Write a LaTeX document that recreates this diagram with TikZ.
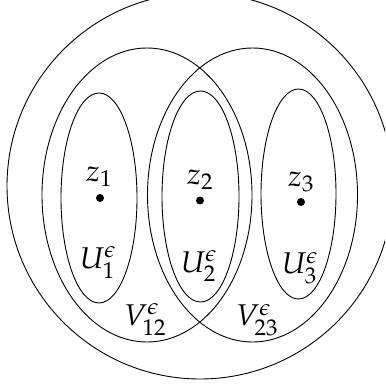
\documentclass[tikz,border=0pt]{standalone}
\usepackage{mathpazo}
\tikzset{
  curve/.style={draw=black, line width=0.9pt},
  lbl/.style={inner sep=0pt, font=\fontsize{30}{36}\selectfont},
  pt/.style={fill=black},
}
\begin{document}
\begin{tikzpicture}[x=1pt,y=-1pt]
\useasboundingbox (0,0) rectangle (385,390);
\clip (0,0) rectangle (385,390);
% outer circle
\draw[curve] (200,186) circle [radius=193];
% V ellipses
\draw[curve] (147,195) ellipse [x radius=105, y radius=147];
\draw[curve] (252.5,195) ellipse [x radius=105, y radius=147];
% U ellipses
\draw[curve] (99,198) ellipse [x radius=38, y radius=105];
\draw[curve] (200.5,196.5) ellipse [x radius=38.5, y radius=105.5];
\draw[curve] (298.5,194) ellipse [x radius=37.5, y radius=105];
% points
\fill[pt] (100,198) circle [radius=4];
\fill[pt] (200,200.5) circle [radius=4];
\fill[pt] (301,202) circle [radius=4];
% labels
\node[lbl] (z1) at (99,177) {$z_1$};
\node[lbl] (z2) at (200,180) {$z_2$};
\node[lbl] (z3) at (301,182) {$z_3$};
\node[lbl] (u1) at (98,263) {$U_1^\epsilon$};
\node[lbl] (u2) at (199,266) {$U_2^\epsilon$};
\node[lbl] (u3) at (300,268) {$U_3^\epsilon$};
\node[lbl] (v12) at (145,320) {$V_{12}^\epsilon$};
\node[lbl] (v23) at (257,320) {$V_{23}^\epsilon$};
\end{tikzpicture}
\end{document}
